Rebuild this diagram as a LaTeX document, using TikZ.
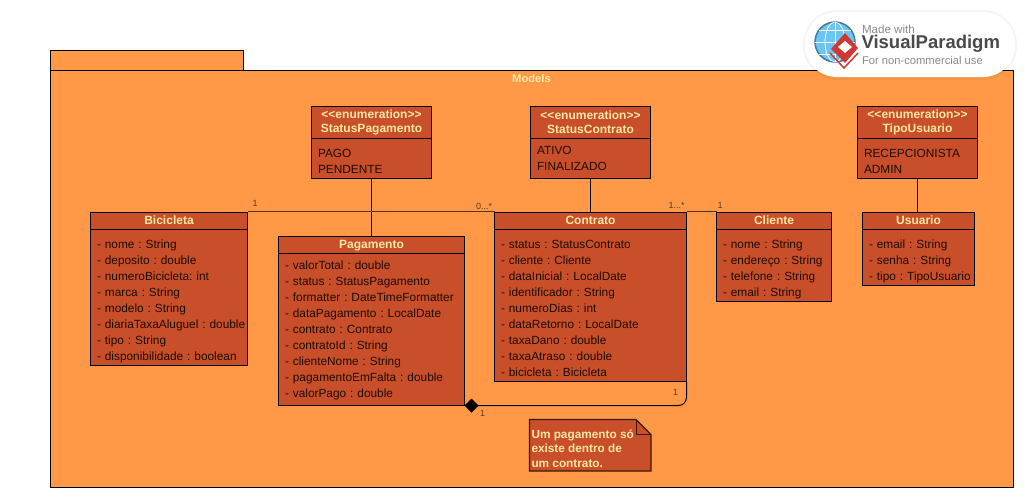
\documentclass[tikz,border=0pt]{standalone}
\usepackage{fontspec}
\setmainfont{Liberation Sans}
\usetikzlibrary{positioning,arrows.meta}
\definecolor{pkgfill}{HTML}{FF9948}
\definecolor{boxfill}{HTML}{C84F29}
\definecolor{headtext}{HTML}{FFE8A6}
\definecolor{bodytext}{HTML}{1E0C04}
\definecolor{linkline}{HTML}{5E3414}
\definecolor{multtext}{HTML}{5A3A20}
\definecolor{notedge}{HTML}{3A1A08}
\definecolor{globeblue}{HTML}{6CC4F2}
\definecolor{globerim}{HTML}{3F7E96}
\definecolor{logored}{HTML}{CE3732}
\definecolor{logogray}{HTML}{8A8A8A}
\definecolor{logodark}{HTML}{4A4A4A}
\begin{document}
\begin{tikzpicture}[x=1pt, y=-1pt, line width=1pt,
class head/.style={draw=black,fill=boxfill,text=headtext,font=\fontsize{12}{14}\selectfont\bfseries,align=center,inner sep=0pt,outer sep=0pt,minimum height=#1},
class head/.default=17pt,
single head/.style={class head,text height=11pt,text depth=5pt},
body top/.store in=\bodytop,
body top=18.5pt,
class body/.style={draw=black,fill=boxfill,text=bodytext,font=\fontsize{11.85}{16}\selectfont\frenchspacing,align=left,inner xsep=1.5pt,inner ysep=0pt,outer sep=0pt,text width=#1,execute at begin node={\leftskip=5pt\hyphenpenalty=10000\rule{0pt}{\bodytop}},execute at end node={\rule[\dimexpr\bodytop-24pt\relax]{0pt}{\dimexpr24pt-\bodytop\relax}}},
mult/.style={text=multtext,font=\fontsize{9}{9}\selectfont,inner sep=0pt},
link/.style={draw=black},
soft link/.style={draw=linkline}]
\useasboundingbox (0,0) rectangle (1025,499);
%package
\draw[fill=pkgfill] (50.5,50.5) rectangle (243.5,70.5);
\draw[fill=pkgfill] (50.5,70.5) rectangle (1013.5,487.5);
\node[text=headtext,font=\fontsize{11.2}{14}\selectfont\bfseries,inner sep=0pt] (models) at (531.5,78.5) {Models};
%classes
\begin{scope}
\node[single head,anchor=north west,minimum width=157pt] (bicicleta) at (90.5,212.5) {Bicicleta};
\node[class body=154pt,below=0pt of bicicleta] (bicicleta body) {- nome : String\\- deposito : double\\- numeroBicicleta: int\\- marca : String\\- modelo : String\\- diariaTaxaAluguel : double\\- tipo : String\\- disponibilidade : boolean};
\node[single head,anchor=north west,minimum width=186pt] (pagamento) at (278.5,236.5) {Pagamento};
\node[class body=183pt,body top=15.5pt,below=0pt of pagamento] (pagamento body) {- valorTotal : double\\- status : StatusPagamento\\- formatter : DateTimeFormatter\\- dataPagamento : LocalDate\\- contrato : Contrato\\- contratoId : String\\- clienteNome : String\\- pagamentoEmFalta : double\\- valorPago : double};
\node[single head,anchor=north west,minimum width=192pt] (contrato) at (494.5,212.5) {Contrato};
\node[class body=189pt,below=0pt of contrato] (contrato body) {- status : StatusContrato\\- cliente : Cliente\\- dataInicial : LocalDate\\- identificador : String\\- numeroDias : int\\- dataRetorno : LocalDate\\- taxaDano : double\\- taxaAtraso : double\\- bicicleta : Bicicleta};
\node[single head,anchor=north west,minimum width=115pt] (cliente) at (716.5,212.5) {Cliente};
\node[class body=112pt,below=0pt of cliente] (cliente body) {- nome : String\\- endereço : String\\- telefone : String\\- email : String};
\node[single head,anchor=north west,minimum width=112pt] (usuario) at (862.5,212.5) {Usuario};
\node[class body=109pt,below=0pt of usuario] (usuario body) {- email : String\\- senha : String\\- tipo : TipoUsuario};
\end{scope}
%enumerations
\begin{scope}
\node[class head=32pt,anchor=north west,minimum width=120pt] (statuspagamento) at (311.5,106.5) {<{}<enumeration>{}>\\StatusPagamento};
\node[class body=117pt,below=0pt of statuspagamento] (statuspagamento body) {PAGO\\PENDENTE};
\node[class head=32pt,anchor=north west,minimum width=120pt] (statuscontrato) at (530.5,106.5) {<{}<enumeration>{}>\\StatusContrato};
\node[class body=117pt,body top=15.5pt,below=0pt of statuscontrato] (statuscontrato body) {ATIVO\\FINALIZADO};
\node[class head=32pt,anchor=north west,minimum width=120pt] (tipousuario) at (857.5,106.5) {<{}<enumeration>{}>\\TipoUsuario};
\node[class body=117pt,below=0pt of tipousuario] (tipousuario body) {RECEPCIONISTA\\ADMIN};
\end{scope}
%links
\begin{scope}
\draw[link] (statuspagamento body.south) -- (pagamento.north);
\draw[link] (statuscontrato body.south) -- (statuscontrato body.south |- contrato.north);
\draw[link] (tipousuario body.south) -- (tipousuario body.south |- usuario.north);
\draw[soft link] ([yshift=.6pt]bicicleta.north east) -- ([yshift=.6pt]contrato.north west);
\draw[soft link] ([yshift=.6pt]contrato.north east) -- ([yshift=.6pt]cliente.north west);
\draw[link,rounded corners=8pt,{Diamond[length=14pt,width=14pt]}-] (pagamento body.south east) -| (contrato body.south east);
\end{scope}
\node[mult] (m1) at (255,203.5) {1};
\node[mult] (m2) at (484,206.5) {0...*};
\node[mult] (m3) at (676.5,205.5) {1...*};
\node[mult] (m4) at (720,205.5) {1};
\node[mult] (m5) at (675.5,392) {1};
\node[mult] (m6) at (482.5,413) {1};
%note
\draw[fill=boxfill,draw=notedge,line width=1.3pt] (529.5,419.5) -- (636,419.5) -- (651,434.5) -- (651,471) -- (529.5,471) -- cycle;
\draw[draw=notedge] (636,419.5) -- (636,434.5) -- (651,434.5);
\node[anchor=north west,text=headtext,font=\fontsize{11.8}{14.5}\selectfont\bfseries,align=left,inner sep=0pt] (nota) at (531,429) {Um pagamento só\\existe dentro de\\um contrato.};
%logo
\fill[black,opacity=.04,rounded corners=34pt] (803,10) rectangle (1017,80);
\fill[white,rounded corners=32pt] (805,12) rectangle (1015,77);
\draw[globerim,fill=globeblue,line width=1.5pt] (835,42) circle (20pt);
\draw[white,line width=.8pt] (835,22) -- (835,62) (815,42) -- (855,42) (819,30) -- (851,30) (819,54) -- (851,54);
\draw[white,line width=.8pt] (835,42) ellipse (10pt and 20pt);
\draw[logored,line width=1.5pt] (830,53) -- (844,68) -- (858,53);
\fill[logored] (845,33) -- (858,48) -- (845,63) -- (831,49) -- cycle;
\fill[white] (845,41) -- (852,47) -- (845,53) -- (838,47) -- cycle;
\node[anchor=west,text=logogray,font=\fontsize{11.6}{11}\selectfont,inner sep=0pt] (madewith) at (861.5,29) {Made with};
\node[anchor=west,text=logodark,font=\fontsize{18.5}{18.5}\selectfont\bfseries,inner sep=0pt] (vplogo) at (861,43.5) {VisualParadigm};
\node[anchor=west,text=logogray,font=\fontsize{11.2}{10.5}\selectfont,inner sep=0pt] (noncommercial) at (861.5,60) {For non-commercial use};
\end{tikzpicture}
\end{document}
